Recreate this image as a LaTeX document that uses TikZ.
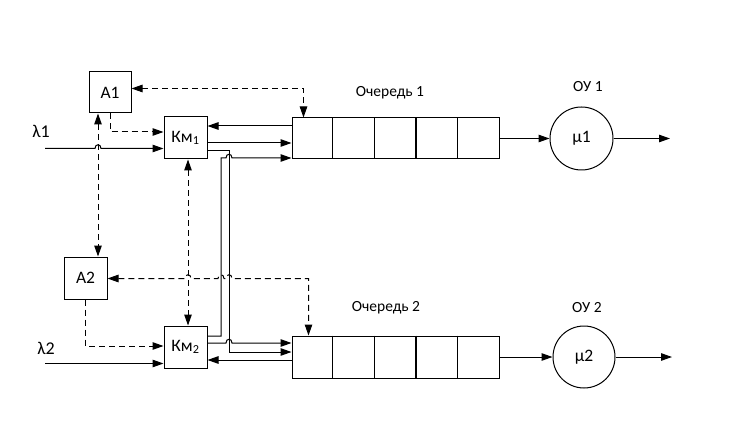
\documentclass[tikz,border=0pt]{standalone}
\usepackage{fontspec}
\setmainfont{Carlito}
\usetikzlibrary{arrows.meta}
\begin{document}
\begin{tikzpicture}[x=1pt,y=-1pt,line width=1pt,
  >={Triangle[length=11pt,width=7.5pt]},
  box/.style={draw,rectangle,minimum width=43pt,minimum height=42pt,inner sep=0pt,
    font=\fontsize{17.5}{20}\selectfont},
  queue/.style={draw,rectangle,minimum width=207pt,minimum height=41pt,inner sep=0pt},
  server/.style={draw,circle,minimum size=62pt,inner sep=0pt,font=\fontsize{17.5}{20}\selectfont},
  lbl/.style={font=\fontsize{15.5}{18}\selectfont,inner sep=0pt},
  inlbl/.style={font=\fontsize{18}{20}\selectfont,inner sep=0pt},
  dsh/.style={dash pattern=on 6pt off 4pt}]
\useasboundingbox (0,0) rectangle (738,430);

% blocks
\node[box,minimum width=42pt,minimum height=41pt] (A1) at (110,92.5) {А1};
\node[box] (A2) at (85.5,278) {А2};
\node[box] (km1) at (185.5,138) {Км\textsubscript{1}};
\node[box] (km2) at (185.5,347) {Км\textsubscript{2}};
\node[queue] (q1) at (395.5,138.5) {};
\node[queue,minimum height=42pt] (q2) at (395.5,357) {};
\node[server,minimum size=63pt] (ou1) at (581.5,138.5) {μ1};
\node[server] (ou2) at (584,357) {μ2};

% queue cells
\foreach \q in {q1,q2}{
  \foreach \i in {1,2,4}
    \draw ([xshift=\i*41.4pt]\q.north west) -- ([xshift=\i*41.4pt]\q.south west);
  \draw[line width=1.8pt] ([xshift=3*41.4pt]\q.north west) -- ([xshift=3*41.4pt]\q.south west);
}

% labels
\node[inlbl] (lam1) at (41,131) {λ1};
\node[inlbl] (lam2) at (46,348) {λ2};
\node[lbl] (t1) at (390,93) {Очередь 1};
\node[lbl] (t2) at (386,308) {Очередь 2};
\node[lbl] (s1) at (588,87) {ОУ 1};
\node[lbl] (s2) at (587,308) {ОУ 2};

% free ends
\coordinate (in1) at (45,148.5);
\coordinate (in2) at (45,363.5);
\coordinate (out1) at (670,138.5);
\coordinate (out2) at (672,357);

% input flows
\draw[->] (in1) -- (95,148.5) .. controls (95,143.5) and (101,143.5) .. (101,148.5) -- (km1.west |- in1);
\draw[->] (in2) -- (km2.west |- in2);

% control links (dashed)
\draw[dsh,->] (A1.south) |- ([yshift=6pt]km1.west);
\draw[dsh,<->] ([yshift=4pt]A1.east) -| ([xshift=12pt]q1.north west);
\draw[dsh,<->] ([xshift=-12pt]A1.south) -- ([xshift=-12pt]A1.south |- A2.north);
\draw[dsh,<->] ([xshift=2.5pt]km1.south) -- ([xshift=2.5pt]km2.north);
\draw[dsh,->] (A2.south) |- ([yshift=1pt]km2.west);
\draw[dsh,<->] ([yshift=-0.5pt]A2.east) -- (185,278.5)
  .. controls (185,273.5) and (191,273.5) .. (191,278.5) -- (218,278.5)
  .. controls (218,273.5) and (224,273.5) .. (224,278.5) -- (226,278.5)
  .. controls (226,273.5) and (232,273.5) .. (232,278.5)
  -| ([xshift=17pt]q2.north west);

% switch 1 <-> queues
\draw[->] ([yshift=12.5pt]q1.west) -- (km1.east |- 0,126);
\draw[->] ([yshift=-5pt]km1.east) -- (q1.west |- 0,143);
\draw[->] ([yshift=-13pt]km1.east) -- (229,151) -- (229,352) -- (q2.west |- 0,352);

% switch 2 <-> queues
\draw[->] ([yshift=11pt]km2.east) -- (221,336) -- (221,158) -- (226,158)
  .. controls (226,153) and (232,153) .. (232,158) -- (q1.west |- 0,158);
\draw[->] ([yshift=4pt]km2.east) -- (226,343)
  .. controls (226,338) and (232,338) .. (232,343) -- (q2.west |- 0,343);
\draw[->] (q2.west |- 0,360) -- (km2.east |- 0,360);

% service
\draw[->] (q1.east) -- (ou1.west);
\draw[->] (ou1.east) -- (out1);
\draw[->] (q2.east) -- (ou2.west);
\draw[->] (ou2.east) -- (out2);
\end{tikzpicture}
\end{document}
